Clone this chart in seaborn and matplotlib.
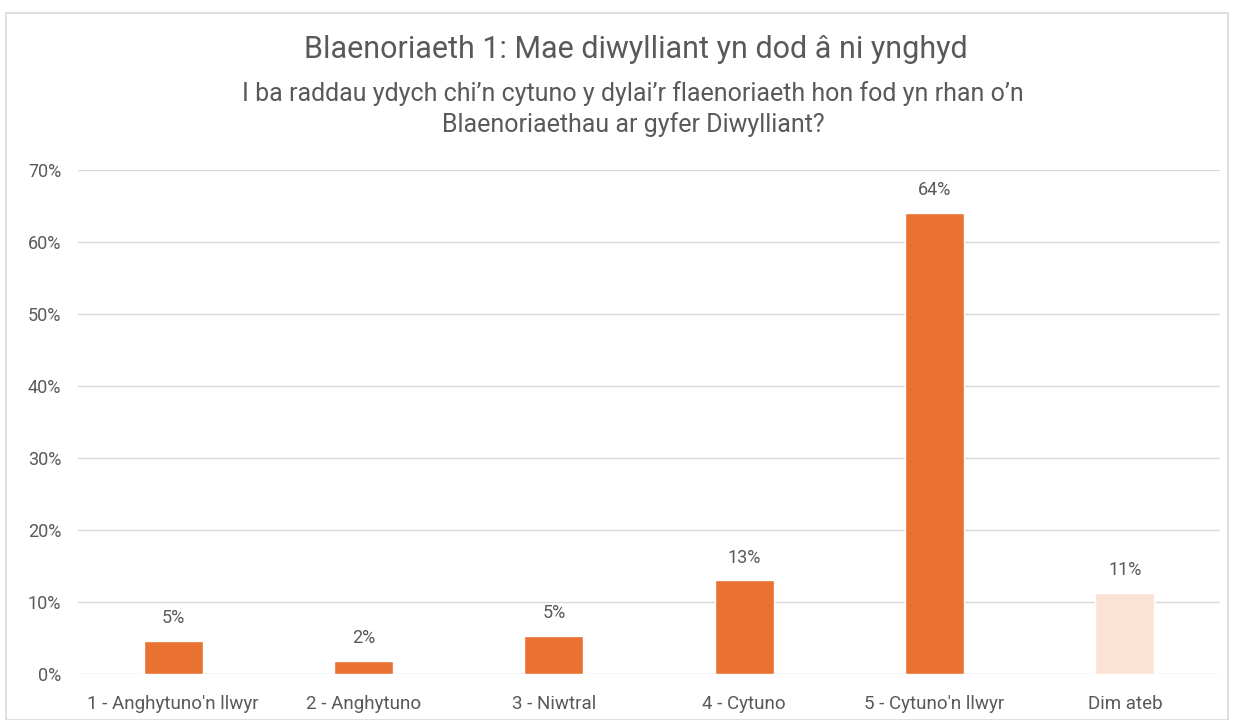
import matplotlib
matplotlib.use("Agg")
import matplotlib.pyplot as plt
import seaborn as sns
from matplotlib.patches import Rectangle
from matplotlib.ticker import PercentFormatter

categories = ["1 - Anghytuno'n llwyr", "2 - Anghytuno", "3 - Niwtral",
              "4 - Cytuno", "5 - Cytuno'n llwyr", "Dim ateb"]
shares = [0.046, 0.018, 0.053, 0.130, 0.640, 0.112]
bar_labels = ["5%", "2%", "5%", "13%", "64%", "11%"]
bar_colors = ["#E97132", "#E97132", "#E97132", "#E97132", "#E97132", "#FBE2D5"]

title = "Blaenoriaeth 1: Mae diwylliant yn dod â ni ynghyd"
subtitle = ("I ba raddau ydych chi\u2019n cytuno y dylai\u2019r flaenoriaeth hon fod yn rhan o\u2019n\n"
            "Blaenoriaethau ar gyfer Diwylliant?")

sns.set_theme(style="white")
plt.rcParams["font.family"] = ["Roboto", "DejaVu Sans"]
text_grey = "#595959"

fig = plt.figure(figsize=(12.34, 7.2), dpi=100)
ax = fig.add_axes([78 / 1234, 1 - 674 / 720, 1142 / 1234, (674 - 170) / 720])

sns.barplot(x=categories, y=shares, hue=categories, palette=bar_colors,
            legend=False, width=0.31, saturation=1, ax=ax)

# value labels above bars
for i, (v, lab) in enumerate(zip(shares, bar_labels)):
    ax.annotate(lab, (i, v), xytext=(0, 10), textcoords="offset points",
                ha="center", va="bottom", fontsize=13, color=text_grey)

ax.set_ylim(0, 0.7)
ax.set_xlim(-0.5, 5.5)
ax.set_yticks([i / 10 for i in range(8)])
ax.yaxis.set_major_formatter(PercentFormatter(1.0, decimals=0))
ax.grid(axis="y", color="#D9D9D9", linewidth=1)
ax.set_axisbelow(True)
for s in ax.spines.values():
    s.set_visible(False)
ax.tick_params(axis="both", length=0, colors=text_grey)
ax.tick_params(axis="y", pad=12, labelsize=13)
ax.tick_params(axis="x", pad=15, labelsize=13.5)
ax.set_xlabel("")
ax.set_ylabel("")

fig.text(0.515, 1 - 50 / 720, title, ha="center", va="center",
         fontsize=22, color=text_grey)
fig.text(0.513, 1 - 109 / 720, subtitle, ha="center", va="center",
         fontsize=18, color=text_grey, linespacing=1.35)

fig.patches.append(Rectangle((6 / 1234, 0), 1222 / 1234, 1 - 13 / 720,
                             transform=fig.transFigure, fill=False,
                             edgecolor="#D9D9D9", linewidth=1.2))

fig.savefig("out.png", dpi=100)
